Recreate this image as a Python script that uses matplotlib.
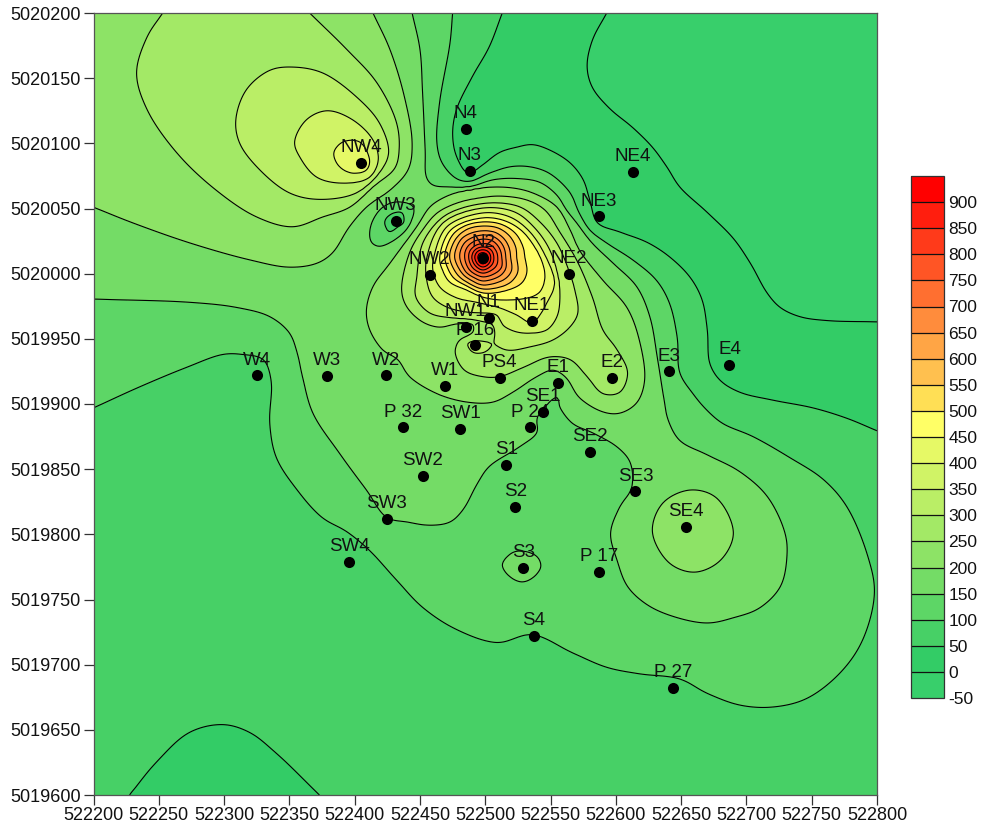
import numpy as np
import matplotlib
matplotlib.use("Agg")
import matplotlib.pyplot as plt

plt.rcParams['font.family'] = ['Liberation Sans', 'DejaVu Sans']
plt.rcParams['axes.unicode_minus'] = False

X0, Y0 = 522200, 5019600

station_names = ["N4","N3","NE4","NE3","NW4","NW3","N2","NW2","NE2","NW1","N1","NE1","P 16","W4","W3","W2","W1","PS4","E1","E2","E3","E4",
                 "P 32","SW1","P 24","SE1","SE2","SW2","S1","SE3","SW3","S2","SE4","SW4","S3","P 17","S4","P 27"]
station_e = [285,288,413,387,205,231.4,298.4,257.5,364,285,302.7,335.6,292.4,125,178.5,224,269,311,356,397,441,487,
             237,281,334,344,380,252,316,415,224.5,323,454,196,329,387,337,444]
station_n = [511,479,478,444,485,440.4,412,399,400,359,366,364,345,322,321.5,322,314,320,316,320,325,330,
             282,281,282,294,263,245,253,233,212,221,205.6,179,174,171,122,82]

# spot readings of the surface between the isolines (east, north, value)
spot_readings = [(413,478,25),(298.4,412,935),(205,485,415),(231.4,440.4,75),(329,174,165),(454,205.6,235),(292.4,345,315),
    (397,320,270),(178.5,321.5,165),(224,322,185),(269,314,215),(237,282,175),(281,281,185),(252,245,175),(323,221,125),
    (387,171,140),(196,179,90),(125,322,90),(487,330,45),(285,511,40),
    (600,600,-30),(500,500,-15),(550,420,-10),(450,590,-20),(100,25,40),(0,0,62),(0,150,75),(100,150,75),(200,80,70),
    (300,50,78),(420,30,82),(600,0,80),(600,100,90),(600,200,90),(600,320,30),(520,340,25),(350,560,25),(330,520,25),
    (0,600,230),(0,520,225),(110,600,270),(0,415,175),(0,340,125),(0,200,80),(230,600,175),(260,600,125),(295,600,75),
    (510,200,175),(560,180,125),(450,110,125),(280,170,120)]

iso_0 = [(393,600),(382,579),(378,559),(382,543),(395,527),(413,512),(428,497),(439,482),(449,466.5),(470,447),(490,427),
         (503,408),(516,385),(526,374),(541,367),(562,364),(601,363)]
iso_50a = [(27.6,0),(48,25),(73.5,48),(99,54),(119.5,48),(140,32),(173,0)]
iso_50b = [(313,600),(303,574),(290,551),(278,526),(275,508),(278,490),(287,477),(296,482),(311,493),(324,497),(336,499),
           (349,495),(365,485),(375,472),(380,456.5),(386,439),(403,432),(424,424),(441,413),(457,397),(466,380),(470,357),
           (472,331),(480,318),(495,309),(520,303),(551,297),(577,289),(601,279)]
iso_100 = [(0,297),(35,313),(71,328),(99,338),(114,338),(130,334),(136,318),(135,285),(140,259),(156,234),(175,213),(194,202),
           (211,188),(232,165),(252,144),(278,127),(309,117),(336,123),(367,109),(393,98),(418,93),(449,89),(470,78),(495,69),
           (520,67.5),(546,74),(572,94),(589,119),(598,155),(593,183),(577,221),(559,242),(533,259),(505,275),(482,285),(470,295),
           (459,308),(449,324),(447,351),(441,377.5),(431,395),(413,410.5),(393,423.5),(380,433.5),(372,446.5),(365,462),
           (349,477),(334,482),(319,482),(303,477),(288,471),(278,473),(267,485),(263,500),(265,531),(273,577),(275,600)]
iso_100_nw3 = [(223,440),(227,445),(236,447),(237.5,439),(233,436),(227,432)]
iso_150 = [(0,380.5),(74,378),(110,374),(135,367),(150,354.5),(156,339),(160,321),(168,293),(188.5,262),(209,234),(224.5,213),
           (240,209.5),(257.5,207),(273,209.5),(283,219),(294,239),(303,252),(326,267),(339.5,278),(340,290),(355.5,305),(357,298),
           (367,285),(382,278),(401,267),(411,255),(412,235.5),(403,221),(396,201),(401,180),(409,160),(424,146),(444,137),(470,132),
           (490,136),(510,143.5),(526,160),(531,183),(529.5,201),(516,229),(495,248),(470,261),(449,272),(440,288),(437,303),(432,334),
           (426,367),(416,390),(398,408),(382,423.5),(370,439),(362,449),(355,460),(342,470),(324,473),(306,472),(288,466.5),(273,466.5),
           (260,468),(255,474),(254,495),(252,539),(250,572),(244,600)]
iso_150_nw3 = [(211.5,431),(214,441),(221.5,451),(232,455),(245,451),(241,436),(232,427),(219,421),(213,424)]
iso_150_s3 = [(313,176.5),(321,186),(329,187),(339.5,183),(342.5,175),(336,166.5),(328,163.5),(319,167.5)]
iso_200_west = [(214,600),(227,572),(238,536),(244,500),(241,480),(227,464),(209,451),(196,436),(183,416),(171,408),(150,405),
                (120,410.5),(74,423.5),(30,439),(0,451)]
iso_200_core = [(209,372),(214,390),(227,408),(247.5,436),(257.5,451),(267.5,458),(280.5,463),(298,466),(319,466),(336,462),(355,451),
                (365,433.5),(372,418),(390,395),(408.5,374),(418,349),(422,318),(416,301),(403,293),(390,294),(372,305),(362,320),
                (352,326),(339.5,321),(321,309),(306,301.5),(286,301.5),(263,308),(242,321),(233,334),(221.5,341.5),(211.5,357)]
iso_200_se4 = [(428,202),(436,224),(457,234),(477,228),(490,201),(480,180),(460.5,171),(441,178)]
iso_250_nw4 = [(53,600),(41,581.5),(33,554),(41,526),(64,492.5),(94,464),(125,443.5),(152.5,436),(175.5,443.5),(196.2,451),(213.8,466.5),(230.6,480.7),
               (234,495),(232,516),(217,546.5),(194,572),(165.5,600)]
iso_250_core = [(236,387.5),(242,416),(252,433.5),(263,446.5),(278,454),(296,458),(311,459.5),(332,456.5),(345.5,449),(357,432),(370,410.5),
                (382,382),(390,357),(401,341.5),(409,324),(403,309),(390,308),(378,321),(365,334),(349,336),(329,328),(311,321),(298,321),
                (284,326),(277,340),(280.5,349),(290,354.5),(290,361.5),(278,361.5),(265,359),(252,363),(240,374.5)]
iso_300_nw4 = [(109,518),(117,541),(135,556),(152.5,558.5),(175.5,554),(201.5,535.5),(219,515.5),(226,492.5),(218.4,477),(201.5,462),(173,457),
               (150,462),(127,480),(112,500)]
iso_300_core = [(303.5,454.2),(326.4,451.2),(341.8,439.7),(354.8,423.6),(364.8,400.5),(368.6,387.5),(370.9,369.8),(364.8,359.1),(351.7,349.1),
                (334.1,343.8),(316.5,341.4),(307.3,346.8),(307.3,354.5),(305.7,360.6),(295.8,363.7),(286.6,364.9),(275.1,366),(257.5,369.8),
                (246.8,382.1),(247.6,397.5),(252.2,423.6),(265.1,441.2),(278.2,448.9)]
iso_300_p16 = [(286.6,346.8),(295.8,348.4),(305,346),(299.6,339.9),(290.4,339.9)]
iso_350_nw4 = [(154,501),(163,518),(179,525),(198.5,518),(214,502.5),(218,487),(211.5,474),(191,469.5),(171,474),(158,489.5)]
iso_350_core = [(298.1,450.4),(322.6,447.3),(337.9,435.1),(349.4,418.2),(355.6,397.5),(357.1,379.8),(354.8,366.8),(347.1,356.8),(335.6,354.5),
                (324.1,355.3),(313.4,360.6),(308.8,368.3),(298.1,369.8),(285.8,370.6),(270.5,374.4),(259.8,382.1),(255.2,395.2),(255.2,412),(267.4,438.9)]
iso_400_nw4 = [(184,492.5),(191,501),(204,501),(211.5,487),(209,479.5),(198.5,477),(188.5,482)]
iso_400_core = [(298.1,446.6),(318.8,443.5),(334.1,432),(345.6,414.3),(353.3,392.9),(347.1,377.5),(341.8,368.3),(335.6,362.2),(324.1,368.3),
                (311.1,373.7),(295.8,377.5),(278.2,381.3),(265.1,389.8),(259.8,402.8),(260.5,412),(270.5,435.8)]
iso_450 = [(298.1,442.7),(315,440.5),(328,433),(337,422),(342.5,412),(345.6,399),(341.8,385.9),(331.8,381.3),(311.1,379.8),(298.1,382.1),(285.8,387.5),
           (272.8,393.6),(267.4,402.8),(265.1,412),(273.6,433.5)]
iso_500 = [(298.1,439.7),(312,438),(323,431),(329,420),(330.3,412),(331.8,401.3),(328,392.9),(317.2,387.5),(298.1,385.2),(285.8,390.6),(275.1,397.5),(269,412),(271,422),(276,431),(285,437)]
iso_550 = [(298.1,436.6),(310,435),(319,428.5),(323.5,420),(324.1,412),(324.9,401.3),(318.8,392.9),(308.8,389),(298.1,388.3),(288.1,392.1),(278.9,399),(272.8,412),(274.5,421),(279,428.5),(287,434.5)]
iso_600 = [(298.1,432.8),(308,431.5),(315,426),(318.5,419),(319.5,412),(320.3,402.8),(315,395.9),(298.1,391.3),(290.4,394.4),(282.8,399.8),(276.6,412),(278,420),(282,427),(289,431)]
iso_650 = [(298.1,429.7),(306,428.5),(312,424),(315,418),(315.7,412),(315.7,404.4),(311.1,398.2),(298.1,394.4),(292,396.7),(285.1,401.3),(280.5,412),(281.5,419),(285,424.5),(291,428)]
iso_700 = [(298.1,426.6),(305,425.5),(309.6,421.5),(312,416.5),(312.7,412),(312.7,405.1),(308,400.5),(298.1,397.5),(288.1,402.8),(284.3,412),(285,418),(288,422.5),(292.5,425.5)]
iso_750 = [(298.1,422.8),(304,422),(307.3,419),(309.2,415.5),(309.6,412),(308.8,406.7),(305,402.8),(298.1,400.5),(290.4,404.4),(287.4,412),(288,417),(290.5,420),(293.5,422)]
iso_800 = [(298.1,420.5),(304.6,418.2),(306.5,412),(305,406.7),(298.1,402.8),(292.7,405.9),(289.7,412),(292,418.2)]
iso_850 = [(298.1,418.2),(302.7,416.3),(304.2,412),(302.7,407.8),(298.1,405.1),(295,406.7),(292,412),(293.5,416.3)]
iso_900 = [(298.1,416.3),(301.2,415.1),(301.9,412),(301.2,409),(298.1,407.4),(295.8,408.2),(294.3,412),(295,415.1)]

# (level, reading, closed ring?)
iso_sets = [(0,iso_0,False),(50,iso_50a,False),(50,iso_50b,False),(100,iso_100,False),(100,iso_100_nw3,True),(150,iso_150,False),
            (150,iso_150_nw3,True),(150,iso_150_s3,True),(200,iso_200_west,False),(200,iso_200_core,True),(200,iso_200_se4,True),
            (250,iso_250_nw4,False),(250,iso_250_core,True),(300,iso_300_nw4,True),(300,iso_300_core,True),(300,iso_300_p16,True),
            (350,iso_350_nw4,True),(350,iso_350_core,True),(400,iso_400_nw4,True),(400,iso_400_core,True),(450,iso_450,True),(500,iso_500,True),
            (550,iso_550,True),(600,iso_600,True),(650,iso_650,True),(700,iso_700,True),(750,iso_750,True),(800,iso_800,True),(850,iso_850,True),(900,iso_900,True)]

levels = list(range(-50, 1000, 50))
band_colors = ["#38CF6B","#33CC66","#47D066","#5DD666","#74DC66","#8DE366","#A3E966","#BAEE66","#D0F366","#E6F966",
               "#FFFF66","#FFDF55","#FFC04F","#FFA545","#FF8C3C","#FF6F30","#FF5525","#FF3A1A","#FF1E0E","#FF0000"]


def smooth_reading(line, closed):
    """Centripetal Catmull-Rom through the digitised vertices of an isoline."""
    p = np.array(line, float)
    n = len(p)
    if closed:
        q = p[[(i % n) for i in range(-1, n + 2)]]
    else:
        q = np.vstack([2 * p[0] - p[1], p, 2 * p[-1] - p[-2]])
    out = []
    for i in range(1, len(q) - 2):
        P0, P1, P2, P3 = q[i - 1], q[i], q[i + 1], q[i + 2]
        t0 = 0.0
        t1 = t0 + max(np.linalg.norm(P1 - P0), 1e-6) ** 0.5
        t2 = t1 + max(np.linalg.norm(P2 - P1), 1e-6) ** 0.5
        t3 = t2 + max(np.linalg.norm(P3 - P2), 1e-6) ** 0.5
        m = int(min(5, np.ceil(np.linalg.norm(P2 - P1) / 6)))
        for t in np.linspace(t1, t2, max(m, 1), endpoint=False):
            A1 = (t1 - t) / (t1 - t0) * P0 + (t - t0) / (t1 - t0) * P1
            A2 = (t2 - t) / (t2 - t1) * P1 + (t - t1) / (t2 - t1) * P2
            A3 = (t3 - t) / (t3 - t2) * P2 + (t - t2) / (t3 - t2) * P3
            B1 = (t2 - t) / (t2 - t0) * A1 + (t - t0) / (t2 - t0) * A2
            B2 = (t3 - t) / (t3 - t1) * A2 + (t - t1) / (t3 - t1) * A3
            out.append((t2 - t) / (t2 - t1) * B1 + (t - t1) / (t2 - t1) * B2)
    if not closed:
        out.append(q[-2])
    return out


# gather the readings, then grid them with a thin-plate surface
pts, vals = [], []
for lev, line, closed in iso_sets:
    for pt in smooth_reading(line, closed):
        pts.append(pt); vals.append(lev)
for e, n, v in spot_readings:
    pts.append((e, n)); vals.append(v)
pts = np.array(pts, float) / 600.0
vals = np.array(vals, float)


def tps_kernel(r2):
    out = np.zeros_like(r2)
    m = r2 > 0
    out[m] = 0.5 * r2[m] * np.log(r2[m])
    return out


d2 = ((pts[:, None, :] - pts[None, :, :]) ** 2).sum(-1)
K = tps_kernel(d2) + 1e-5 * np.eye(len(pts))
P = np.c_[np.ones(len(pts)), pts]
A = np.block([[K, P], [P.T, np.zeros((3, 3))]])
coef = np.linalg.solve(A, np.r_[vals, np.zeros(3)])
w, a = coef[:len(pts)], coef[len(pts):]

ge = np.linspace(0, 600, 481)
gn = np.linspace(0, 600, 481)
Z = np.zeros((gn.size, ge.size))
for i, n in enumerate(gn):
    q = np.c_[ge / 600.0, np.full(ge.size, n / 600.0)]
    r2 = ((q[:, None, :] - pts[None, :, :]) ** 2).sum(-1)
    Z[i] = tps_kernel(r2) @ w + a[0] + q @ a[1:]
Z = np.clip(Z, -49, 949)

W, H = 982, 831
fig = plt.figure(figsize=(W / 100, H / 100), dpi=100, facecolor="white")
ax = fig.add_axes([93.5 / W, 1 - 795 / H, 783.5 / W, 782 / H])
GX, GY = np.meshgrid(ge + X0, gn + Y0)
cf = ax.contourf(GX, GY, Z, levels=levels, colors=band_colors)
ax.contour(GX, GY, Z, levels=levels[1:-1], colors="black", linewidths=0.8)

sx = np.array(station_e) + X0
sy = np.array(station_n) + Y0
ax.scatter(sx, sy, s=64, color="black", zorder=6, linewidths=0)
for name, x, y in zip(station_names, sx, sy):
    ax.annotate(name, (x, y), xytext=(0, 11), textcoords="offset points", ha="center", va="center",
                fontsize=13.5, color="#111111", zorder=5)

ax.set_xlim(X0, X0 + 600)
ax.set_ylim(Y0, Y0 + 600)
ax.set_xticks(np.arange(X0, X0 + 601, 50))
ax.set_yticks(np.arange(Y0, Y0 + 601, 50))
ax.ticklabel_format(useOffset=False, style="plain")
ax.tick_params(direction="out", length=7, width=0.9, labelsize=13, color="#333333", labelcolor="#111111", pad=2)
for s in ax.spines.values():
    s.set_linewidth(0.9)
    s.set_color("#555555")

cax = fig.add_axes([910.5 / W, 1 - 698 / H, 33 / W, 522 / H])
cb = fig.colorbar(cf, cax=cax, ticks=levels[:-1], drawedges=True)
cb.dividers.set_color("#111111")
cb.dividers.set_linewidth(0.9)
cb.outline.set_edgecolor("#333333")
cb.outline.set_linewidth(0.9)
cax.tick_params(length=0, labelsize=12.5, labelcolor="#111111", pad=3.5)

fig.savefig("out.png", dpi=100)
